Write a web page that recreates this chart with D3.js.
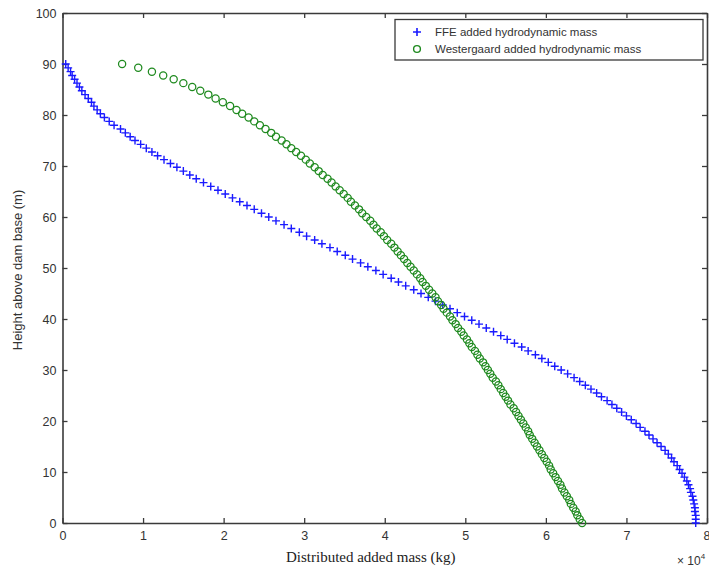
<!DOCTYPE html>
<html>
<head>
<meta charset="utf-8">
<script src="https://cdn.jsdelivr.net/npm/d3@7"></script>
<style>
  html, body { margin: 0; padding: 0; background: #fff; }
  svg { display: block; }
</style>
</head>
<body>
<svg id="chart" width="709" height="573"></svg>
<script>
// Node heights above the dam base (m), shared by both profiles
const heights = [
  0, 0.75, 1.5, 2.25, 3, 3.75, 4.5, 5.25, 6, 6.75, 7.5, 8.25, 9, 9.75, 10.5, 11.25,
  12, 12.75, 13.5, 14.25, 15, 15.75, 16.5, 17.25, 18, 18.75, 19.5, 20.25, 21, 21.75,
  22.5, 23.25, 24, 24.75, 25.5, 26.25, 27, 27.75, 28.5, 29.25, 30, 30.75, 31.5, 32.25,
  33, 33.75, 34.5, 35.25, 36, 36.75, 37.5, 38.25, 39, 39.75, 40.5, 41.25, 42, 42.75,
  43.5, 44.25, 45, 45.75, 46.5, 47.25, 48, 48.75, 49.5, 50.25, 51, 51.75, 52.5, 53.25,
  54, 54.75, 55.5, 56.25, 57, 57.75, 58.5, 59.25, 60, 60.75, 61.5, 62.25, 63, 63.75,
  64.5, 65.25, 66, 66.75, 67.5, 68.25, 69, 69.75, 70.5, 71.25, 72, 72.75, 73.5, 74.25,
  75, 75.75, 76.5, 77.25, 78, 78.75, 79.5, 80.25, 81, 81.75, 82.5, 83.25, 84, 84.75,
  85.5, 86.25, 87, 87.75, 88.5, 89.25, 90
];

// FFE added hydrodynamic mass (x 10^4 kg)
const ffeMass = [
  7.86, 7.86, 7.86, 7.85, 7.85, 7.84, 7.83, 7.82, 7.80, 7.79, 7.77, 7.75, 7.72, 7.69, 7.66, 7.63,
  7.59, 7.56, 7.52, 7.48, 7.43, 7.38, 7.33, 7.28, 7.23, 7.17, 7.12, 7.06, 7.00, 6.94,
  6.88, 6.82, 6.76, 6.69, 6.63, 6.56, 6.49, 6.42, 6.35, 6.27, 6.19, 6.11, 6.03, 5.95,
  5.87, 5.78, 5.70, 5.61, 5.52, 5.44, 5.35, 5.26, 5.17, 5.08, 4.99, 4.90, 4.81, 4.72,
  4.63, 4.54, 4.45, 4.36, 4.26, 4.17, 4.08, 3.98, 3.89, 3.79, 3.70, 3.60, 3.51, 3.41,
  3.32, 3.22, 3.13, 3.03, 2.94, 2.84, 2.75, 2.65, 2.56, 2.47, 2.38, 2.29, 2.20, 2.11,
  2.02, 1.93, 1.84, 1.75, 1.66, 1.58, 1.50, 1.42, 1.34, 1.26, 1.18, 1.11, 1.04, 0.97,
  0.90, 0.84, 0.78, 0.72, 0.64, 0.58, 0.52, 0.47, 0.43, 0.39, 0.36, 0.32, 0.28, 0.24,
  0.21, 0.18, 0.15, 0.12, 0.10, 0.07, 0.04
];

// Westergaard added hydrodynamic mass (x 10^4 kg)
const westergaardMass = [
  6.45, 6.42, 6.39, 6.37, 6.34, 6.31, 6.29, 6.26, 6.23, 6.20, 6.18, 6.15, 6.12, 6.09, 6.06, 6.04,
  6.01, 5.98, 5.95, 5.92, 5.89, 5.86, 5.83, 5.80, 5.78, 5.75, 5.72, 5.69, 5.66, 5.63,
  5.60, 5.56, 5.53, 5.50, 5.47, 5.44, 5.41, 5.38, 5.34, 5.31, 5.28, 5.25, 5.22, 5.18,
  5.15, 5.12, 5.08, 5.05, 5.02, 4.98, 4.95, 4.91, 4.88, 4.84, 4.81, 4.77, 4.73, 4.70,
  4.66, 4.63, 4.59, 4.55, 4.51, 4.47, 4.44, 4.40, 4.36, 4.32, 4.28, 4.24, 4.20, 4.16,
  4.12, 4.08, 4.03, 3.99, 3.95, 3.90, 3.86, 3.82, 3.77, 3.72, 3.68, 3.63, 3.58, 3.54,
  3.49, 3.44, 3.39, 3.34, 3.29, 3.23, 3.18, 3.13, 3.07, 3.02, 2.96, 2.90, 2.84, 2.78,
  2.72, 2.65, 2.59, 2.52, 2.45, 2.38, 2.31, 2.23, 2.16, 2.08, 1.99, 1.90, 1.81, 1.71,
  1.61, 1.50, 1.38, 1.25, 1.11, 0.94, 0.74
];

const xTicks = [0, 1, 2, 3, 4, 5, 6, 7, 8];
const yTicks = [0, 10, 20, 30, 40, 50, 60, 70, 80, 90, 100];
const legendLabels = ["FFE added hydrodynamic mass", "Westergaard added hydrodynamic mass"];

const svg = d3.select("#chart");
const plot = { left: 62.5, right: 707, top: 13, bottom: 523 };

const x = d3.scaleLinear().domain([0, 8]).range([plot.left, plot.right]);
const y = d3.scaleLinear().domain([0, 100]).range([plot.bottom, plot.top]);

const axisColor = "#3a3a3a";
const tickFont = "Liberation Sans, Arial, sans-serif";

// Axes with inward ticks on all four sides
const gBottom = svg.append("g").attr("transform", `translate(0,${plot.bottom})`)
  .call(d3.axisBottom(x).tickValues(xTicks).tickSizeInner(-5).tickSizeOuter(0).tickPadding(8));
const gTop = svg.append("g").attr("transform", `translate(0,${plot.top})`)
  .call(d3.axisTop(x).tickValues(xTicks).tickSizeInner(-5).tickSizeOuter(0).tickFormat(""));
const gLeft = svg.append("g").attr("transform", `translate(${plot.left},0)`)
  .call(d3.axisLeft(y).tickValues(yTicks).tickSizeInner(-5).tickSizeOuter(0).tickPadding(6));
const gRight = svg.append("g").attr("transform", `translate(${plot.right},0)`)
  .call(d3.axisRight(y).tickValues(yTicks).tickSizeInner(-5).tickSizeOuter(0).tickFormat(""));

[gBottom, gTop, gLeft, gRight].forEach(g => {
  g.select(".domain").attr("stroke", axisColor).attr("stroke-width", 1.6);
  g.selectAll(".tick line").attr("stroke", axisColor).attr("stroke-width", 1.3);
  g.selectAll(".tick text").attr("fill", "#333").attr("font-family", tickFont).attr("font-size", 12.5);
});

// The last x label sits on the window edge; keep it inside
gBottom.selectAll(".tick text")
  .filter(d => d === xTicks[xTicks.length - 1])
  .attr("text-anchor", "end")
  .attr("dx", 3);

// FFE profile: blue plus markers
const plusSize = 4;
svg.append("g").selectAll("path")
  .data(heights.map((h, i) => ({ h, m: ffeMass[i] })))
  .join("path")
  .attr("d", d => {
    const cx = x(d.m), cy = y(d.h);
    return `M${cx - plusSize},${cy}H${cx + plusSize}M${cx},${cy - plusSize}V${cy + plusSize}`;
  })
  .attr("stroke", "#1a1aff")
  .attr("stroke-width", 1.4)
  .attr("fill", "none");

// Westergaard profile: green open circles
svg.append("g").selectAll("circle")
  .data(heights.map((h, i) => ({ h, m: westergaardMass[i] })))
  .join("circle")
  .attr("cx", d => x(d.m))
  .attr("cy", d => y(d.h))
  .attr("r", 3.6)
  .attr("fill", "none")
  .attr("stroke", "#1f8a1f")
  .attr("stroke-width", 1.25);

// Legend
const legend = svg.append("g");
legend.append("rect")
  .attr("x", 395).attr("y", 19.5).attr("width", 308).attr("height", 40.5)
  .attr("fill", "#fff").attr("stroke", axisColor).attr("stroke-width", 1.3);
const legendRows = [
  { label: legendLabels[0], yy: 32 },
  { label: legendLabels[1], yy: 49 }
];
legend.append("path")
  .attr("d", `M${417 - plusSize},${legendRows[0].yy}H${417 + plusSize}M417,${legendRows[0].yy - plusSize}V${legendRows[0].yy + plusSize}`)
  .attr("stroke", "#1a1aff").attr("stroke-width", 1.6);
legend.append("circle")
  .attr("cx", 417).attr("cy", legendRows[1].yy).attr("r", 3.4)
  .attr("fill", "none").attr("stroke", "#1f8a1f").attr("stroke-width", 1.4);
legend.selectAll("text.lbl")
  .data(legendRows)
  .join("text")
  .attr("class", "lbl")
  .attr("x", 435)
  .attr("y", d => d.yy + 4)
  .attr("font-family", tickFont)
  .attr("font-size", 11.5)
  .attr("fill", "#333")
  .text(d => d.label);

// Axis titles
svg.append("text")
  .attr("x", (plot.left + plot.right) / 2 - 14)
  .attr("y", 562)
  .attr("text-anchor", "middle")
  .attr("font-family", "Liberation Serif, 'Times New Roman', serif")
  .attr("font-size", 15)
  .attr("fill", "#222")
  .text("Distributed added mass (kg)");

svg.append("text")
  .attr("transform", `translate(22,${(plot.top + plot.bottom) / 2 + 2}) rotate(-90)`)
  .attr("text-anchor", "middle")
  .attr("font-family", tickFont)
  .attr("font-size", 13)
  .attr("fill", "#333")
  .text("Height above dam base (m)");

// Scale multiplier for the x axis
const mult = svg.append("text")
  .attr("x", 677)
  .attr("y", 565)
  .attr("font-family", tickFont)
  .attr("font-size", 12)
  .attr("fill", "#333");
mult.append("tspan").text("× 10");
mult.append("tspan").attr("font-size", 8).attr("dy", -6).text("4");
</script>
</body>
</html>
